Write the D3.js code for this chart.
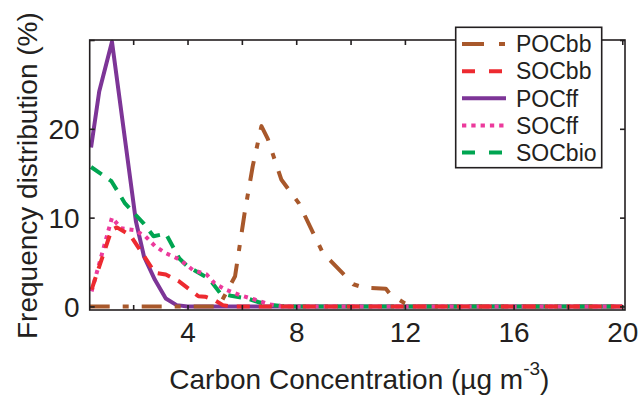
<!DOCTYPE html>
<html><head><meta charset="utf-8">
<script src="https://cdn.jsdelivr.net/npm/d3@7"></script>
<style>body{margin:0;background:#fff}svg{display:block}text{font-family:"Liberation Sans",Arial,sans-serif;fill:#231f20}</style>
</head><body><svg id="c" width="638" height="397"></svg>
<script>
// ---- data ----
const seriesNames = ["POCbb","SOCbb","POCff","SOCff","SOCbio"];
const xPOCbb = [0.4,5.15,5.75,6.1,6.4,6.72,6.95,7.45,8.1,9.0,9.25,10.1,10.5,11.3,11.45,12.0,12.25,20];
const yPOCbb = [0,0,3.4,10.5,15.8,20.3,18.9,14.3,11.6,5.9,5.2,2.5,2.1,2.0,1.4,0.35,0,0];
const xSOCbb = [0.47,1.2,1.4,1.9,2.8,3.2,3.7,4.4,4.65,5.0,5.3,5.6,20];
const ySOCbb = [1.9,8.6,8.9,8.0,3.8,3.6,2.8,1.15,1.1,0.7,0.15,0,0];
const xPOCff = [0.45,0.75,1.22,2.1,2.4,2.8,3.2,3.6,4.0,20];
const yPOCff = [17.9,24.2,29.8,9.6,5.6,3.0,0.9,0.15,0,0];
const xSOCff = [0.47,1.22,1.55,2.05,2.45,2.8,3.2,3.7,4.2,4.7,5.0,5.4,5.9,6.5,7.0,7.5,20];
const ySOCff = [1.7,10.0,8.8,8.6,7.9,6.8,6.0,5.3,4.1,3.6,2.6,1.9,1.3,0.75,0.25,0,0];
const xSOCbio = [0.45,1.2,1.7,2.4,2.75,3.2,3.7,4.0,4.8,5.2,5.6,6.2,6.6,7.1,7.6,20];
const ySOCbio = [15.7,14.1,11.6,9.3,7.9,8.2,5.4,4.5,3.1,1.5,1.2,0.9,0.5,0.15,0,0];
const xTicks = [2,4,6,8,10,12,14,16,18,20];
const xTickLabels = [4,8,12,16,20];
const yTicks = [0,10,20,30];
const yTickLabels = [0,10,20];

// ---- layout ----
const L=89.7, R=625, T=40, B=310;
const x = d3.scaleLinear().domain([0.4,20.1]).range([L,R]);
const y = d3.scaleLinear().domain([-0.4,30]).range([B,T]);
const svg = d3.select("#c");
const styles = {
  POCbb:{color:"#a8582b",dash:"20,13,6,13",x:xPOCbb,y:yPOCbb},
  SOCbb:{color:"#ed2a30",dash:"13,9",x:xSOCbb,y:ySOCbb},
  POCff:{color:"#7d3597",dash:null,x:xPOCff,y:yPOCff},
  SOCff:{color:"#ec3a9c",dash:"4,5",x:xSOCff,y:ySOCff},
  SOCbio:{color:"#00a551",dash:"13,9",x:xSOCbio,y:ySOCbio}
};
const drawOrder = ["POCff","POCbb","SOCbio","SOCff","SOCbb"];
svg.append("clipPath").attr("id","pc").append("rect")
  .attr("x",L).attr("y",T-3).attr("width",R-L).attr("height",B-T+3);
const line = d3.line().x(d=>x(d[0])).y(d=>y(d[1]));
const g = svg.append("g").attr("clip-path","url(#pc)");
drawOrder.forEach(n=>{
  const s=styles[n];
  g.append("path").datum(d3.zip(s.x,s.y)).attr("d",line)
    .attr("fill","none").attr("stroke",s.color).attr("stroke-width",4)
    .attr("stroke-dasharray",s.dash).attr("stroke-linejoin","round");
});
// frame
svg.append("rect").attr("x",L).attr("y",T).attr("width",R-L).attr("height",B-T)
  .attr("fill","none").attr("stroke","#231f20").attr("stroke-width",1.6);
// axes with inward ticks
const fmt = v => xTickLabels.includes(v) ? String(v) : "";
const ax = svg.append("g").attr("transform",`translate(0,${B})`)
  .call(d3.axisBottom(x).tickValues(xTicks).tickSizeInner(-5).tickSizeOuter(0).tickFormat(fmt).tickPadding(14));
const axT = svg.append("g").attr("transform",`translate(0,${T})`)
  .call(d3.axisTop(x).tickValues(xTicks).tickSizeInner(-5).tickSizeOuter(0).tickFormat(""));
const ayL = svg.append("g").attr("transform",`translate(${L},0)`)
  .call(d3.axisLeft(y).tickValues(yTicks).tickSizeInner(-5).tickSizeOuter(0)
  .tickFormat(v=>yTickLabels.includes(v)?String(v):"").tickPadding(14));
const ayR = svg.append("g").attr("transform",`translate(${R},0)`)
  .call(d3.axisRight(y).tickValues(yTicks).tickSizeInner(-5).tickSizeOuter(0).tickFormat(""));
[ax,axT,ayL,ayR].forEach(a=>{
  a.select(".domain").remove();
  a.selectAll(".tick line").attr("stroke","#231f20").attr("stroke-width",1.6);
  a.selectAll("text").style("font-size","28px").attr("fill","#231f20")
   .style("font-family",'"Liberation Sans",Arial,sans-serif');
});
ax.selectAll("text").attr("dy",null).attr("y",32);
ayL.selectAll("text").attr("dy","0.36em").attr("x",-10);
// titles
const xt = svg.append("text").attr("x",(L+R)/2+2).attr("y",389).attr("text-anchor","middle")
  .style("font-size","28px");
xt.append("tspan").text("Carbon Concentration (µg m");
xt.append("tspan").text("-3").style("font-size","19px").attr("dy",-14);
xt.append("tspan").text(")").attr("dy",14);
svg.append("text").attr("transform","translate(37,339) rotate(-90)").attr("text-anchor","start")
  .style("font-size","28px").text("Frequency distribution (%)");
// legend
const lg = svg.append("g");
lg.append("rect").attr("x",455.7).attr("y",27.3).attr("width",146).attr("height",140.4)
  .attr("fill","#fff").attr("stroke","#231f20").attr("stroke-width",1.6);
const rowY = d3.scalePoint().domain(seriesNames).range([44,152.5]);
seriesNames.forEach(n=>{
  const s=styles[n], yy=rowY(n);
  lg.append("line").attr("x1",462).attr("x2",506).attr("y1",yy).attr("y2",yy)
    .attr("stroke",s.color).attr("stroke-width",4).attr("stroke-dasharray",
      n==="POCbb"?"22,15,6,10":(n==="SOCff"?"4.3,5":(s.dash?"13,14":null)));
  lg.append("text").attr("x",516).attr("y",yy+8.3).style("font-size","23px").text(n);
});
</script></body></html>
